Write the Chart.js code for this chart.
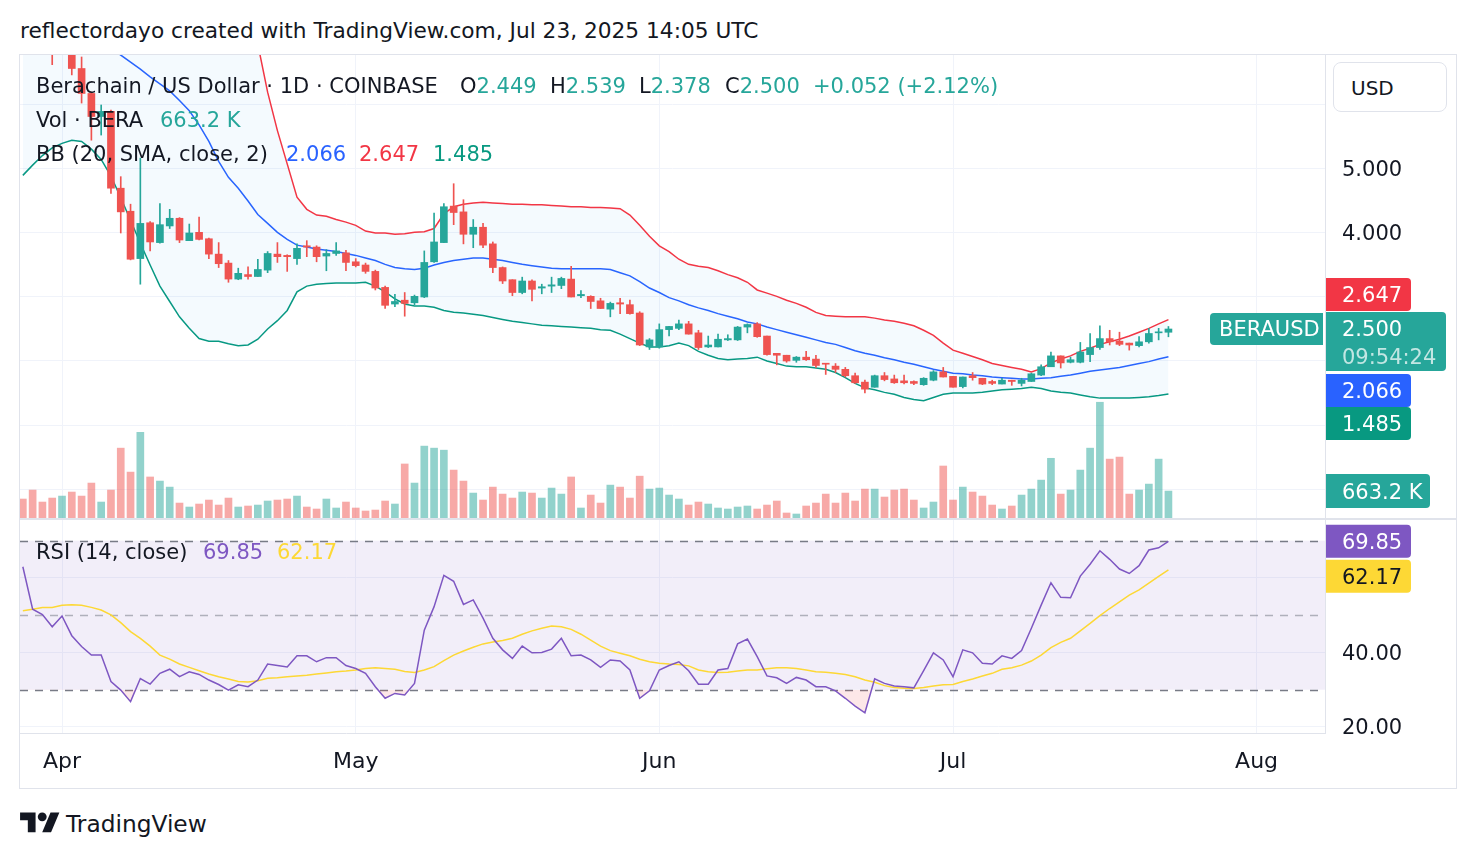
<!DOCTYPE html>
<html>
<head>
<meta charset="utf-8">
<title>BERAUSD 1D</title>
<script src="https://cdn.jsdelivr.net/npm/chart.js@4.4.1/dist/chart.umd.min.js"></script>
<style>
  body { margin:0; width:1476px; height:858px; background:#fff; position:relative; overflow:hidden;
         font-family:'DejaVu Sans', sans-serif; color:#131722; }
  .t { position:absolute; white-space:nowrap; font-size:21px; line-height:24px; }
  canvas { position:absolute; }
</style>
</head>
<body>
<div class="t" style="left:20px;top:19px;font-size:21.7px">reflectordayo created with TradingView.com, Jul 23, 2025 14:05 UTC</div>
<div style="position:absolute;left:19px;top:54px;width:1438px;height:735px;border:1px solid #e0e3eb;box-sizing:border-box"></div>
<canvas id="priceChart" width="1436" height="463" style="left:20px;top:55px"></canvas>
<div style="position:absolute;left:20px;top:518px;width:1436px;height:2px;background:#e0e3eb"></div>
<canvas id="rsiChart" width="1436" height="268" style="left:20px;top:520px"></canvas>
<div style="position:absolute;left:1333px;top:62px;width:114px;height:50px;box-sizing:border-box;border:1px solid #e0e3eb;border-radius:8px;background:#fff;font-size:20px;line-height:50px;padding-left:17px">USD</div>
<svg style="position:absolute;left:20px;top:808px" width="40" height="31" viewBox="0 0 36 28"><path d="M14 22H7V11H0V4h14v18zM28 22h-8l7.5-18h8L28 22z" fill="#131722"/><circle cx="20" cy="8" r="4" fill="#131722"/></svg>
<div class="t" style="left:66px;top:810px;font-size:23.3px;line-height:28px">TradingView</div>

<script>
// daily candles, Mar 28 .. Jul 23 2025 (index 0 = Mar 28)
const opens = [
  7.75, 7.45, 7.15, 7.05, 6.95, 7.15, 6.57, 6.18, 5.82, 5.90,
  4.70, 4.34, 3.60, 4.16, 3.85, 4.11, 4.23, 3.88, 4.01, 3.91,
  3.67, 3.53, 3.28, 3.35, 3.32, 3.42, 3.67, 3.65, 3.60, 3.80,
  3.78, 3.64, 3.68, 3.69, 3.55, 3.50, 3.40, 3.15, 2.89, 2.95,
  2.91, 3.00, 3.55, 3.85, 4.42, 4.33, 3.98, 4.09, 3.83, 3.46,
  3.27, 3.07, 3.25, 3.14, 3.17, 3.18, 3.28, 3.02, 3.01, 2.94,
  2.81, 2.91, 2.88, 2.75, 2.22, 2.22, 2.49, 2.51, 2.58, 2.44,
  2.22, 2.22, 2.33, 2.33, 2.53, 2.58, 2.39, 2.12, 2.09, 2.01,
  2.06, 2.03, 1.96, 1.92, 1.87, 1.77, 1.67, 1.59, 1.77, 1.72,
  1.69, 1.68, 1.63, 1.70, 1.83, 1.76, 1.60, 1.77, 1.73, 1.68,
  1.64, 1.70, 1.65, 1.68, 1.78, 1.91, 2.08, 1.98, 1.98, 2.10,
  2.21, 2.35, 2.31, 2.28, 2.24, 2.30, 2.44, 2.449
];
const highs = [
  7.95, 7.55, 7.35, 7.25, 7.30, 7.20, 6.75, 6.20, 6.00, 5.92,
  4.88, 4.45, 5.17, 4.18, 4.46, 4.37, 4.24, 4.14, 4.25, 3.92,
  3.85, 3.57, 3.45, 3.47, 3.59, 3.71, 3.85, 3.66, 3.83, 3.88,
  3.80, 3.74, 3.85, 3.73, 3.60, 3.53, 3.42, 3.17, 3.04, 3.07,
  3.03, 3.72, 4.31, 4.46, 4.77, 4.52, 4.21, 4.15, 3.86, 3.47,
  3.27, 3.31, 3.27, 3.20, 3.31, 3.31, 3.48, 3.10, 3.02, 2.98,
  2.92, 2.98, 2.95, 2.77, 2.35, 2.58, 2.54, 2.64, 2.62, 2.48,
  2.39, 2.42, 2.41, 2.54, 2.58, 2.60, 2.39, 2.12, 2.09, 2.07,
  2.15, 2.09, 1.96, 1.96, 1.90, 1.81, 1.70, 1.78, 1.82, 1.78,
  1.78, 1.69, 1.74, 1.85, 1.90, 1.76, 1.75, 1.82, 1.73, 1.70,
  1.73, 1.70, 1.73, 1.81, 1.94, 2.14, 2.08, 2.06, 2.29, 2.43,
  2.55, 2.48, 2.45, 2.28, 2.38, 2.51, 2.51, 2.539
];
const lows = [
  7.35, 7.05, 6.95, 6.63, 6.90, 6.47, 6.03, 5.45, 5.53, 4.62,
  4.00, 3.58, 3.20, 3.72, 3.84, 4.07, 3.85, 3.88, 3.89, 3.60,
  3.46, 3.23, 3.27, 3.28, 3.32, 3.38, 3.54, 3.40, 3.51, 3.63,
  3.55, 3.41, 3.65, 3.41, 3.47, 3.37, 3.11, 2.82, 2.85, 2.70,
  2.88, 2.99, 3.54, 3.85, 4.13, 3.83, 3.77, 3.77, 3.38, 3.21,
  3.02, 3.05, 2.94, 3.05, 3.07, 3.13, 3.00, 2.99, 2.82, 2.82,
  2.69, 2.74, 2.73, 2.24, 2.18, 2.20, 2.39, 2.49, 2.42, 2.18,
  2.21, 2.22, 2.32, 2.32, 2.44, 2.37, 2.09, 1.94, 1.98, 1.98,
  2.01, 1.90, 1.79, 1.82, 1.75, 1.65, 1.50, 1.59, 1.69, 1.65,
  1.64, 1.63, 1.62, 1.69, 1.75, 1.59, 1.58, 1.70, 1.63, 1.63,
  1.64, 1.62, 1.61, 1.68, 1.77, 1.91, 1.89, 1.97, 1.97, 1.99,
  2.18, 2.25, 2.24, 2.17, 2.22, 2.28, 2.33, 2.378
];
const closes = [
  7.45, 7.15, 7.05, 6.95, 7.15, 6.57, 6.18, 5.82, 5.90, 4.70,
  4.33, 3.59, 4.15, 3.86, 4.13, 4.23, 3.89, 4.00, 3.90, 3.67,
  3.52, 3.28, 3.37, 3.32, 3.43, 3.68, 3.63, 3.63, 3.76, 3.78,
  3.63, 3.68, 3.72, 3.54, 3.49, 3.40, 3.14, 2.87, 2.93, 2.90,
  3.01, 3.54, 3.86, 4.41, 4.32, 3.98, 4.09, 3.81, 3.46, 3.25,
  3.07, 3.25, 3.12, 3.16, 3.19, 3.29, 3.00, 3.04, 2.93, 2.82,
  2.90, 2.89, 2.74, 2.25, 2.33, 2.49, 2.54, 2.58, 2.42, 2.21,
  2.25, 2.34, 2.35, 2.53, 2.57, 2.38, 2.10, 2.09, 2.00, 2.06,
  2.02, 1.93, 1.95, 1.87, 1.77, 1.66, 1.56, 1.77, 1.71, 1.66,
  1.66, 1.65, 1.73, 1.83, 1.75, 1.59, 1.75, 1.74, 1.64, 1.65,
  1.70, 1.68, 1.70, 1.80, 1.91, 2.08, 1.97, 2.02, 2.14, 2.21,
  2.35, 2.30, 2.26, 2.25, 2.30, 2.43, 2.448, 2.500
];
// volume in thousands of BERA
const volumes = [
  467, 688, 393, 491, 540, 639, 540, 860, 393, 688,
  1720, 1130, 2110, 1010, 909, 761, 368, 270, 344, 442,
  319, 491, 270, 295, 319, 418, 442, 467, 540, 270,
  221, 467, 246, 393, 246, 172, 196, 418, 344, 1330,
  860, 1770, 1720, 1670, 1180, 909, 614, 442, 761, 589,
  491, 639, 614, 491, 737, 589, 1010, 246, 565, 368,
  810, 761, 491, 1030, 712, 737, 565, 467, 319, 393,
  344, 246, 221, 270, 295, 221, 319, 418, 123, 98,
  295, 368, 589, 368, 614, 418, 712, 712, 516, 688,
  712, 442, 246, 393, 1280, 442, 761, 639, 540, 319,
  221, 295, 565, 712, 933, 1470, 589, 688, 1180, 1720,
  2850, 1450, 1500, 589, 688, 835, 1450, 663.2
];
// Bollinger Bands (20, SMA, close, 2)
const bbUpper = [
  8.60, 8.60, 8.60, 8.60, 8.60, 8.60, 8.65, 8.70, 8.80, 8.89,
  9.01, 9.16, 9.28, 9.38, 9.48, 9.50, 9.44, 9.31, 9.03, 8.55,
  7.93, 7.47, 7.20, 7.10, 6.95, 6.20, 5.60, 5.08, 4.56, 4.37,
  4.28, 4.26, 4.21, 4.17, 4.12, 4.03, 4.00, 4.00, 3.98, 3.99,
  4.01, 4.02, 4.07, 4.30, 4.41, 4.45, 4.47, 4.48, 4.47, 4.46,
  4.45, 4.45, 4.44, 4.44, 4.43, 4.42, 4.41, 4.41, 4.40, 4.40,
  4.39, 4.38, 4.28, 4.12, 3.95, 3.80, 3.71, 3.59, 3.51, 3.48,
  3.46, 3.41, 3.35, 3.30, 3.23, 3.11, 3.06, 3.01, 2.95, 2.90,
  2.84, 2.76, 2.71, 2.70, 2.69, 2.69, 2.69, 2.67, 2.64, 2.62,
  2.59, 2.55, 2.48, 2.40, 2.28, 2.17, 2.12, 2.07, 2.02, 1.96,
  1.93, 1.90, 1.87, 1.83, 1.88, 1.97, 2.03, 2.08, 2.15, 2.20,
  2.26, 2.30, 2.34, 2.39, 2.45, 2.51, 2.58, 2.647
];
const bbBasis = [
  7.60, 7.55, 7.50, 7.45, 7.40, 7.30, 7.20, 7.10, 7.00, 6.88,
  6.78, 6.67, 6.56, 6.44, 6.33, 6.22, 6.07, 5.91, 5.69, 5.43,
  5.12, 4.87, 4.70, 4.50, 4.29, 4.15, 4.01, 3.90, 3.81, 3.78,
  3.75, 3.73, 3.71, 3.68, 3.65, 3.61, 3.57, 3.51, 3.46, 3.44,
  3.43, 3.45, 3.50, 3.54, 3.57, 3.59, 3.61, 3.61, 3.59, 3.57,
  3.54, 3.51, 3.49, 3.47, 3.45, 3.44, 3.44, 3.44, 3.44, 3.44,
  3.43, 3.38, 3.33, 3.24, 3.14, 3.07, 2.99, 2.94, 2.88, 2.83,
  2.79, 2.74, 2.70, 2.66, 2.61, 2.58, 2.53, 2.49, 2.45, 2.41,
  2.37, 2.33, 2.29, 2.26, 2.21, 2.16, 2.12, 2.09, 2.05, 2.02,
  1.98, 1.95, 1.91, 1.87, 1.84, 1.81, 1.80, 1.78, 1.77, 1.75,
  1.74, 1.73, 1.72, 1.72, 1.73, 1.74, 1.76, 1.78, 1.81, 1.84,
  1.86, 1.88, 1.90, 1.93, 1.96, 1.99, 2.03, 2.066
];
const bbLower = [
  4.90, 5.06, 5.21, 5.33, 5.40, 5.45, 5.43, 5.31, 5.15, 4.89,
  4.55, 4.20, 3.84, 3.50, 3.17, 2.93, 2.69, 2.51, 2.35, 2.31,
  2.31, 2.27, 2.24, 2.25, 2.34, 2.50, 2.63, 2.79, 3.08, 3.17,
  3.20, 3.21, 3.22, 3.22, 3.22, 3.23, 3.17, 3.08, 2.97, 2.89,
  2.86, 2.86, 2.84, 2.79, 2.76, 2.75, 2.73, 2.71, 2.68, 2.65,
  2.62, 2.60, 2.58, 2.56, 2.55, 2.54, 2.53, 2.52, 2.51, 2.49,
  2.48, 2.42, 2.35, 2.28, 2.22, 2.22, 2.24, 2.28, 2.24, 2.15,
  2.09, 2.04, 2.02, 2.03, 2.04, 2.06, 2.00, 1.96, 1.92, 1.91,
  1.91, 1.89, 1.87, 1.82, 1.74, 1.65, 1.58, 1.55, 1.51, 1.48,
  1.43, 1.40, 1.38, 1.43, 1.48, 1.50, 1.50, 1.50, 1.51, 1.53,
  1.55, 1.56, 1.57, 1.59, 1.57, 1.53, 1.51, 1.50, 1.47, 1.44,
  1.42, 1.42, 1.42, 1.42, 1.43, 1.44, 1.46, 1.485
];
// RSI (14, close) and its moving average
const rsi = [
  63.0, 51.6, 50.2, 46.9, 49.8, 44.5, 41.6, 39.3, 39.3, 32.2,
  29.9, 26.8, 33.0, 31.5, 34.4, 35.5, 33.5, 34.8, 34.1, 32.6,
  31.4, 29.9, 31.3, 30.8, 32.6, 36.9, 36.5, 36.1, 39.1, 39.1,
  37.5, 38.6, 38.6, 36.5, 35.7, 34.4, 30.8, 27.7, 29.0, 28.6,
  31.7, 46.0, 52.3, 60.7, 59.1, 52.9, 54.1, 49.2, 43.8, 40.7,
  38.4, 41.7, 39.9, 40.0, 40.9, 43.8, 39.1, 39.3, 38.0, 36.0,
  38.0, 37.7, 35.3, 27.7, 29.7, 35.3, 36.5, 37.5, 35.1, 31.5,
  31.5, 35.3, 35.7, 42.3, 43.6, 38.9, 33.7, 33.2, 31.7, 33.3,
  32.6, 30.8, 30.8, 29.7, 27.7, 25.6, 23.8, 32.9, 31.7, 31.0,
  30.8, 30.5, 35.1, 39.9, 38.0, 33.5, 40.7, 39.9, 37.1, 36.9,
  39.1, 38.4, 40.5, 46.5, 52.7, 58.7, 54.8, 54.7, 60.5, 63.7,
  67.3, 65.0, 62.4, 61.2, 63.3, 67.5, 68.1, 69.85
];
const rsiMa = [
  51.2, 51.6, 52.1, 52.1, 52.7, 52.8, 52.7, 52.1, 51.4, 50.1,
  48.0, 45.6, 43.8, 41.7, 39.3, 38.2, 36.9, 36.0, 35.1, 34.2,
  33.5, 32.9, 32.2, 32.1, 32.4, 33.1, 33.2, 33.5, 33.7, 33.9,
  34.2, 34.5, 34.8, 35.0, 35.3, 35.7, 35.9, 35.7, 35.5, 34.9,
  34.6, 35.3, 36.2, 37.8, 39.3, 40.4, 41.4, 42.3, 42.8, 43.2,
  43.8, 44.9, 45.8, 46.5, 47.1, 46.9, 46.2, 44.9, 43.3, 41.7,
  40.5, 39.8, 39.1, 38.2, 37.5, 37.1, 36.9, 36.8, 36.4, 35.3,
  34.8, 34.6, 34.7, 35.0, 35.3, 35.3, 35.6, 35.9, 35.9, 35.7,
  35.3, 34.8, 34.7, 34.4, 34.1, 33.5, 32.6, 32.0, 31.1, 30.6,
  30.4, 30.3, 30.6, 31.0, 31.3, 31.4, 32.2, 32.9, 33.7, 34.4,
  35.5, 35.9, 36.6, 37.7, 39.3, 41.3, 42.7, 43.8, 45.8, 47.8,
  49.9, 51.8, 53.6, 55.4, 56.8, 58.6, 60.4, 62.17
];
// time axis: day index of each month start, and its label
const monthTickDays = [4, 34, 65, 95, 126];
const monthTickLabels = ['Apr', 'May', 'Jun', 'Jul', 'Aug'];
const priceGrid = [0, 1, 2, 3, 4, 5, 6];
const rsiGrid = [20, 40, 60];
const rsiLevels = [70, 50, 30];
const countdown = '09:54:24';

const UP = '#26a69a', DOWN = '#ef5350';
const FONT = "'DejaVu Sans', sans-serif";
const n = closes.length - 1;

Chart.defaults.font.family = FONT;
Chart.defaults.font.size = 21;
Chart.defaults.color = '#131722';

const candleColors = closes.map((c, i) => c >= opens[i] ? UP : DOWN);
const volColors = closes.map((c, i) => c >= opens[i] ? 'rgba(38,166,154,0.5)' : 'rgba(239,83,80,0.5)');
const bodies = opens.map((o, i) => ({ x: i, y: [Math.min(o, closes[i]), Math.max(o, closes[i])] }));
const wicks = lows.map((l, i) => ({ x: i, y: [l, highs[i]] }));
const asPoints = arr => arr.map((v, i) => ({ x: i, y: v }));

// right axis is 131px wide in both panes so the plots line up
function fixAxis(s) { s.width = 131; s.paddingTop = 0; s.paddingBottom = 0; }

function tag(ctx, x, top, w, h, bg, radii) {
  ctx.fillStyle = bg;
  ctx.beginPath();
  ctx.roundRect(x, top, w, h, radii || [0, 4, 4, 0]);
  ctx.fill();
}
function tagText(ctx, txt, x, y, color) {
  ctx.fillStyle = color;
  ctx.textBaseline = 'middle';
  ctx.textAlign = 'left';
  ctx.font = '21px ' + FONT;
  ctx.fillText(txt, x, y + 2);
}

const priceTags = {
  id: 'priceTags',
  afterDraw(chart) {
    const { ctx, chartArea, scales } = chart;
    const y = scales.y, x0 = chartArea.right + 1, h = 33;
    ctx.save();
    // last price + countdown
    const cy = y.getPixelForValue(closes[n]);
    const mainTop = cy - 17, mainH = 59;
    tag(ctx, x0, mainTop, 120, mainH, candleColors[n]);
    tagText(ctx, closes[n].toFixed(3), x0 + 16, cy, '#fff');
    tagText(ctx, countdown, x0 + 16, cy + 28, 'rgba(255,255,255,0.72)');
    // symbol tag on the plot side
    tag(ctx, chartArea.right - 115, cy - 16, 113, 32, candleColors[n], [4, 0, 0, 4]);
    tagText(ctx, 'BERAUSD', chartArea.right - 106, cy, '#fff');
    // bands, pushed apart so they do not overlap
    const uTop = Math.min(y.getPixelForValue(bbUpper[n]) - h / 2, mainTop - 1 - h);
    tag(ctx, x0, uTop, 85, h, '#f23645');
    tagText(ctx, bbUpper[n].toFixed(3), x0 + 16, uTop + h / 2, '#fff');
    const mTop = Math.max(y.getPixelForValue(bbBasis[n]) - h / 2, mainTop + mainH + 3);
    tag(ctx, x0, mTop, 85, h, '#2962ff');
    tagText(ctx, bbBasis[n].toFixed(3), x0 + 16, mTop + h / 2, '#fff');
    const lTop = Math.max(y.getPixelForValue(bbLower[n]) - h / 2, mTop + h);
    tag(ctx, x0, lTop, 85, h, '#089981');
    tagText(ctx, bbLower[n].toFixed(3), x0 + 16, lTop + h / 2, '#fff');
    // volume
    const vy = scales.yv.getPixelForValue(volumes[n]);
    tag(ctx, x0, vy - 17, 104, 34, candleColors[n]);
    tagText(ctx, volumes[n].toFixed(1) + ' K', x0 + 16, vy, '#fff');
    ctx.restore();
  }
};

new Chart(document.getElementById('priceChart'), {
  type: 'bar',
  data: {
    datasets: [
      { type: 'bar', data: bodies, backgroundColor: candleColors, barThickness: 7, minBarLength: 1,
        grouped: false, order: 0, yAxisID: 'y' },
      { type: 'bar', data: wicks, backgroundColor: candleColors, barThickness: 1,
        grouped: false, order: 1, yAxisID: 'y' },
      { type: 'line', data: asPoints(bbUpper), borderColor: '#f23645', borderWidth: 1.5, pointRadius: 0,
        fill: '+2', backgroundColor: 'rgba(33,150,243,0.05)', order: 2, yAxisID: 'y' },
      { type: 'line', data: asPoints(bbBasis), borderColor: '#2962ff', borderWidth: 1.5, pointRadius: 0,
        fill: false, order: 2, yAxisID: 'y' },
      { type: 'line', data: asPoints(bbLower), borderColor: '#089981', borderWidth: 1.5, pointRadius: 0,
        fill: false, order: 2, yAxisID: 'y' },
      { type: 'bar', data: asPoints(volumes), backgroundColor: volColors, barThickness: 7,
        grouped: false, order: 5, yAxisID: 'yv' }
    ]
  },
  options: {
    responsive: false, animation: false, devicePixelRatio: 1, events: [],
    layout: { padding: 0 },
    plugins: { legend: { display: false }, tooltip: { enabled: false } },
    scales: {
      x: {
        type: 'linear', min: -0.29, max: 132.99, offset: false,
        afterBuildTicks: s => { s.ticks = monthTickDays.map(v => ({ value: v })); },
        ticks: { display: false },
        grid: { color: '#f0f3fa', drawTicks: false, offset: false },
        border: { display: false },
        afterFit: s => { s.height = 0; s.paddingLeft = 0; s.paddingRight = 0; }
      },
      y: {
        position: 'right', min: -0.453, max: 6.781,
        afterBuildTicks: s => { s.ticks = priceGrid.map(v => ({ value: v })); },
        ticks: { callback: v => v.toFixed(3), padding: 17, labelOffset: 2 },
        grid: { color: '#f0f3fa', drawTicks: false },
        border: { color: '#e0e3eb' },
        afterFit: fixAxis
      },
      yv: { display: false, min: 0, max: 11400 }
    }
  },
  plugins: [priceTags]
});

const rsiDecor = {
  id: 'rsiDecor',
  beforeDatasetsDraw(chart) {
    const { ctx, chartArea: a, scales: { y } } = chart;
    ctx.save();
    ctx.fillStyle = 'rgba(126,87,194,0.1)';
    const top = y.getPixelForValue(rsiLevels[0]), bot = y.getPixelForValue(rsiLevels[2]);
    ctx.fillRect(a.left, top, a.right - a.left, bot - top);
    ctx.lineWidth = 1.5;
    ctx.setLineDash([8, 7]);
    rsiLevels.forEach((lv, i) => {
      const py = Math.round(y.getPixelForValue(lv)) + 0.5;
      ctx.strokeStyle = i === 1 ? 'rgba(120,123,134,0.55)' : '#787b86';
      ctx.beginPath(); ctx.moveTo(a.left, py); ctx.lineTo(a.right, py); ctx.stroke();
    });
    ctx.restore();
  },
  afterDraw(chart) {
    const { ctx, chartArea, scales: { y } } = chart;
    const x0 = chartArea.right + 1, h = 33;
    ctx.save();
    const rTop = y.getPixelForValue(rsi[n]) - h / 2;
    tag(ctx, x0, rTop, 85, h, '#7e57c2');
    tagText(ctx, rsi[n].toFixed(2), x0 + 16, rTop + h / 2, '#fff');
    const mTop = Math.max(y.getPixelForValue(rsiMa[n]) - h / 2, rTop + h + 2);
    tag(ctx, x0, mTop, 85, h, '#fdd835');
    tagText(ctx, rsiMa[n].toFixed(2), x0 + 16, mTop + h / 2, '#131722');
    ctx.restore();
  }
};

new Chart(document.getElementById('rsiChart'), {
  type: 'line',
  data: {
    datasets: [
      { data: asPoints(rsi), borderColor: '#7e57c2', borderWidth: 1.5, pointRadius: 0,
        fill: { target: { value: 30 }, above: 'rgba(0,0,0,0)', below: 'rgba(242,54,69,0.12)' } },
      { data: asPoints(rsiMa), borderColor: '#fdd835', borderWidth: 1.5, pointRadius: 0, fill: false }
    ]
  },
  options: {
    responsive: false, animation: false, devicePixelRatio: 1, events: [],
    layout: { padding: 0 },
    plugins: { legend: { display: false }, tooltip: { enabled: false } },
    scales: {
      x: {
        type: 'linear', min: -0.29, max: 132.99,
        afterBuildTicks: s => { s.ticks = monthTickDays.map(v => ({ value: v })); },
        ticks: { callback: (v, i) => monthTickLabels[i], font: { size: 22 }, padding: 16,
                 maxRotation: 0, autoSkip: false },
        grid: { color: '#f0f3fa', drawTicks: false },
        border: { color: '#e0e3eb' },
        afterFit: s => { s.height = 55; s.paddingLeft = 0; s.paddingRight = 0; }
      },
      y: {
        position: 'right', min: 18.38, max: 75.56,
        afterBuildTicks: s => { s.ticks = rsiGrid.map(v => ({ value: v })); },
        ticks: { callback: v => v.toFixed(2), padding: 17, labelOffset: 2 },
        grid: { color: '#f0f3fa', drawTicks: false },
        border: { color: '#e0e3eb' },
        afterFit: fixAxis
      }
    }
  },
  plugins: [rsiDecor]
});

// legends
function label(x, top, html) {
  const d = document.createElement('div');
  d.className = 't';
  d.style.left = x + 'px';
  d.style.top = top + 'px';
  d.innerHTML = html;
  document.body.appendChild(d);
}
const lastCol = candleColors[n];
const chg = closes[n] - closes[n - 1];
const pct = chg / closes[n - 1] * 100;
const c = (col, s) => `<span style="color:${col}">${s}</span>`;
label(36, 74, 'Berachain / US Dollar · 1D · COINBASE');
label(460, 74, 'O' + c(lastCol, opens[n].toFixed(3)));
label(550, 74, 'H' + c(lastCol, highs[n].toFixed(3)));
label(639, 74, 'L' + c(lastCol, lows[n].toFixed(3)));
label(725, 74, 'C' + c(lastCol, closes[n].toFixed(3)));
label(813, 74, c(lastCol, (chg >= 0 ? '+' : '') + chg.toFixed(3) + ' (' + (pct >= 0 ? '+' : '') + pct.toFixed(2) + '%)'));
label(36, 108, 'Vol · BERA');
label(160, 108, c(lastCol, volumes[n].toFixed(1) + ' K'));
label(36, 142, 'BB (20, SMA, close, 2)');
label(286, 142, c('#2962ff', bbBasis[n].toFixed(3)));
label(359, 142, c('#f23645', bbUpper[n].toFixed(3)));
label(433, 142, c('#089981', bbLower[n].toFixed(3)));
label(36, 540, 'RSI (14, close)');
label(203, 540, c('#7e57c2', rsi[n].toFixed(2)));
label(277, 540, c('#fdd835', rsiMa[n].toFixed(2)));
</script>
</body>
</html>
